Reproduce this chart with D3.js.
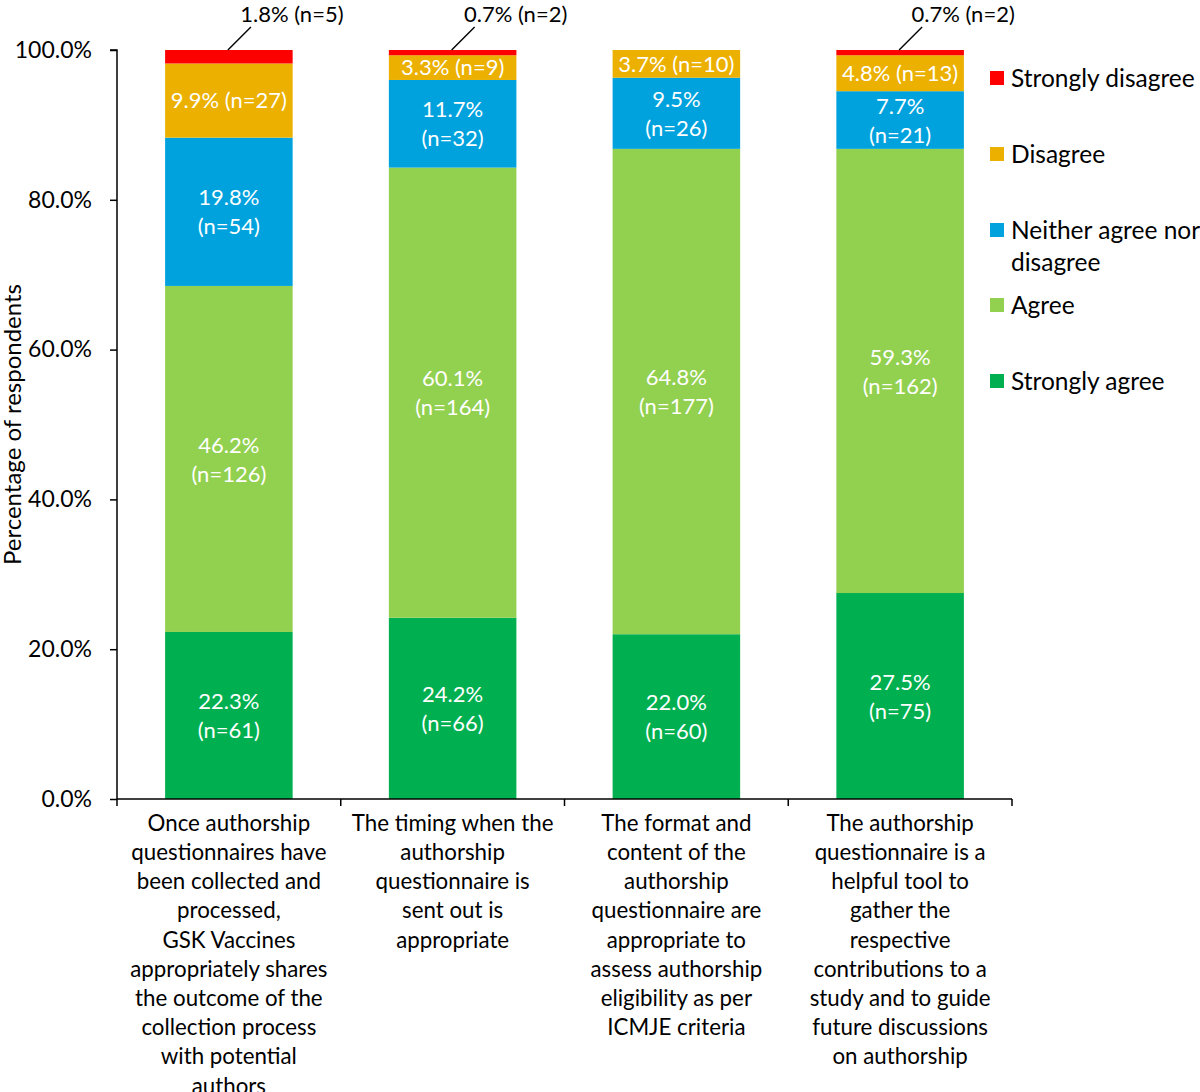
<!DOCTYPE html>
<html>
<head>
<meta charset="utf-8">
<script src="https://cdn.jsdelivr.net/npm/d3@7"></script>
<style>
  body { margin: 0; background: #fff; }
  svg { display: block; font-family: Lato, "Open Sans", sans-serif; }
</style>
</head>
<body>
<svg id="chart" width="1200" height="1092"></svg>
<script>
// categories (x axis labels, pre-wrapped as in the original)
const categories = ['q1', 'q2', 'q3', 'q4'];
const categoryLines = [
  ['Once authorship', 'questionnaires have', 'been collected and', 'processed,', 'GSK Vaccines', 'appropriately shares', 'the outcome of the', 'collection process', 'with potential', 'authors'],
  ['The timing when the', 'authorship', 'questionnaire is', 'sent out is', 'appropriate'],
  ['The format and', 'content of the', 'authorship', 'questionnaire are', 'appropriate to', 'assess authorship', 'eligibility as per', 'ICMJE criteria'],
  ['The authorship', 'questionnaire is a', 'helpful tool to', 'gather the', 'respective', 'contributions to a', 'study and to guide', 'future discussions', 'on authorship']
];

// series, bottom to top of the stack
const seriesNames = ['Strongly agree', 'Agree', 'Neither agree nor disagree', 'Disagree', 'Strongly disagree'];
const stronglyAgree    = [22.3, 24.2, 22.0, 27.5];
const agree            = [46.2, 60.1, 64.8, 59.3];
const neither          = [19.8, 11.7, 9.5, 7.7];
const disagree         = [9.9, 3.3, 3.7, 4.8];
const stronglyDisagree = [1.8, 0.7, 0, 0.7];

const nStronglyAgree    = [61, 66, 60, 75];
const nAgree            = [126, 164, 177, 162];
const nNeither          = [54, 32, 26, 21];
const nDisagree         = [27, 9, 10, 13];
const nStronglyDisagree = [5, 2, 0, 2];

const yTicks = [0, 20, 40, 60, 80, 100];

const colors = ['#00b050', '#92d050', '#00a2de', '#ebb000', '#ff0000'];
const values = [stronglyAgree, agree, neither, disagree, stronglyDisagree];
const counts = [nStronglyAgree, nAgree, nNeither, nDisagree, nStronglyDisagree];

const svg = d3.select('#chart');
const plot = { left: 117, right: 1012, top: 50, bottom: 799 };

const x = d3.scaleBand()
  .domain(categories)
  .range([plot.left, plot.right])
  .paddingInner(0.43)
  .paddingOuter(0.215);

const y = d3.scaleLinear().domain([0, 100]).range([plot.bottom, plot.top]);

const rows = categories.map((c, i) => {
  const r = { cat: c };
  seriesNames.forEach((s, k) => { r[s] = values[k][i]; });
  return r;
});
const stacked = d3.stack().keys(seriesNames)(rows);

// bars
const layers = svg.append('g').selectAll('g')
  .data(stacked)
  .join('g')
  .attr('fill', (d, k) => colors[k]);

layers.selectAll('rect')
  .data(d => d)
  .join('rect')
  .attr('x', d => x(d.data.cat))
  .attr('width', x.bandwidth())
  .attr('y', d => y(d[1]))
  .attr('height', d => y(d[0]) - y(d[1]));

// in-bar labels
const labels = svg.append('g').attr('fill', '#fff').attr('font-size', 22).attr('text-anchor', 'middle');
stacked.forEach((layer, k) => {
  layer.forEach((d, i) => {
    const v = values[k][i];
    if (v <= 0) return;
    const cx = x(d.data.cat) + x.bandwidth() / 2;
    const cy = y((d[0] + d[1]) / 2);
    const pct = v.toFixed(1) + '%';
    const nTxt = '(n=' + counts[k][i] + ')';
    if (k === 4) {
      // strongly disagree: label above the bar with a leader line
      const top = y(d[1]);
      svg.append('line')
        .attr('x1', cx - 1).attr('y1', top)
        .attr('x2', cx + 22).attr('y2', top - 23)
        .attr('stroke', '#000').attr('stroke-width', 1.5);
      svg.append('text')
        .attr('x', cx + 63).attr('y', 14)
        .attr('dy', '0.35em')
        .attr('text-anchor', 'middle')
        .attr('font-size', 22)
        .text(pct + ' ' + nTxt);
    } else if (k === 3) {
      labels.append('text').attr('x', cx).attr('y', cy).attr('dy', '0.35em').text(pct + ' ' + nTxt);
    } else {
      labels.append('text').attr('x', cx).attr('y', cy - 14).attr('dy', '0.35em').text(pct);
      labels.append('text').attr('x', cx).attr('y', cy + 15).attr('dy', '0.35em').text(nTxt);
    }
  });
});

// y axis
const yAxis = svg.append('g')
  .attr('transform', `translate(${plot.left},0)`)
  .call(d3.axisLeft(y).tickValues(yTicks).tickSize(7).tickPadding(18).tickFormat(d => d.toFixed(1) + '%'));
yAxis.select('.domain').attr('stroke-width', 1.5).attr('d', `M-7,${plot.top}H0V${plot.bottom}`);
yAxis.selectAll('.tick line').attr('stroke-width', 1.5);
yAxis.selectAll('.tick text').attr('font-size', 23).attr('font-family', 'Lato, sans-serif').attr('fill', '#000');

// x axis line with boundary ticks
svg.append('line')
  .attr('x1', plot.left).attr('x2', plot.right)
  .attr('y1', plot.bottom).attr('y2', plot.bottom)
  .attr('stroke', '#000').attr('stroke-width', 1.5);
const bounds = categories.map(c => x(c) - x.step() * x.paddingInner() / 2).concat([plot.right]);
bounds[0] = plot.left;
svg.append('g').selectAll('line')
  .data(bounds)
  .join('line')
  .attr('x1', d => d).attr('x2', d => d)
  .attr('y1', plot.bottom).attr('y2', plot.bottom + 7)
  .attr('stroke', '#000').attr('stroke-width', 1.5);

// x category labels
const xl = svg.append('g').attr('font-size', 22.3).attr('text-anchor', 'middle').attr('fill', '#000');
categories.forEach((c, i) => {
  const cx = x(c) + x.bandwidth() / 2;
  categoryLines[i].forEach((line, j) => {
    xl.append('text').attr('x', cx).attr('y', 823 + j * 29.2).attr('dy', '0.35em').text(line);
  });
});

// y axis title
svg.append('text')
  .attr('transform', `translate(13,${(plot.top + plot.bottom) / 2}) rotate(-90)`)
  .attr('text-anchor', 'middle')
  .attr('dy', '0.35em')
  .attr('font-size', 24)
  .text('Percentage of respondents');

// legend (top to bottom: reverse stack order)
const legendItems = [
  { name: ['Strongly disagree'], color: colors[4], y: 78 },
  { name: ['Disagree'], color: colors[3], y: 154 },
  { name: ['Neither agree nor', 'disagree'], color: colors[2], y: 230 },
  { name: ['Agree'], color: colors[1], y: 305 },
  { name: ['Strongly agree'], color: colors[0], y: 381 }
];
const lg = svg.append('g');
legendItems.forEach(it => {
  lg.append('rect').attr('x', 990).attr('y', it.y - 7).attr('width', 14).attr('height', 14).attr('fill', it.color);
  it.name.forEach((t, j) => {
    lg.append('text').attr('x', 1011).attr('y', it.y + j * 32).attr('dy', '0.35em').attr('font-size', 24.5).text(t);
  });
});
</script>
</body>
</html>
